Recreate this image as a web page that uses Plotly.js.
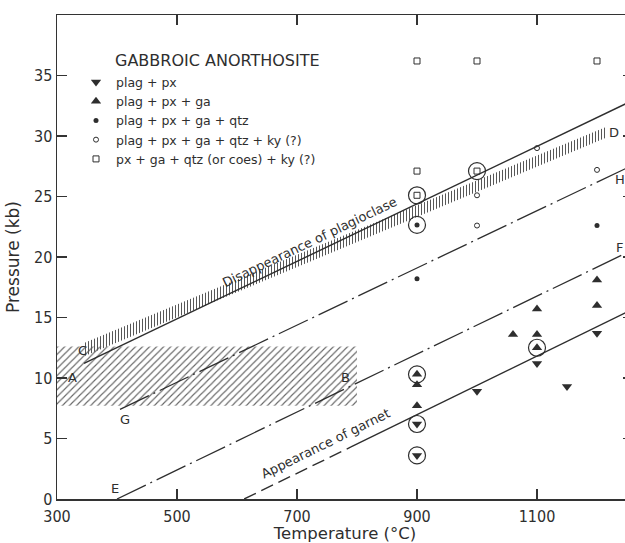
<!DOCTYPE html>
<html>
<head>
<meta charset="utf-8">
<script src="https://cdn.plot.ly/plotly-3.0.1.min.js"></script>
<style>
html,body{margin:0;padding:0;overflow:hidden;background:#fff;}
#chart{width:640px;height:543px;}
</style>
</head>
<body>
<div id="chart"></div>
<script>
// ---- experimental runs (Temperature °C, Pressure kb) ----
const plagPxT = [1000, 1100, 1150, 1200, 900, 900];
const plagPxP = [8.9, 11.2, 9.3, 13.7, 6.2, 3.6];

const plagPxGaT = [900, 900, 900, 1060, 1100, 1100, 1100, 1200, 1200];
const plagPxGaP = [10.3, 9.45, 7.7, 13.6, 13.6, 15.7, 12.5, 16.0, 18.1];

const plagPxGaQtzT = [900, 900, 1200];
const plagPxGaQtzP = [18.2, 22.65, 22.6];

const plagPxGaQtzKyT = [1000, 1000, 1100, 1200];
const plagPxGaQtzKyP = [22.6, 25.1, 29.0, 27.2];

const pxGaQtzKyT = [900, 1000, 1200, 900, 900, 1000];
const pxGaQtzKyP = [36.2, 36.2, 36.2, 27.1, 25.1, 27.1];

// circled runs
const circledT = [900, 1000, 900, 1100, 900, 900, 900];
const circledP = [25.1, 27.1, 22.65, 12.5, 10.3, 6.2, 3.6];

// ---- boundaries ----
const plagOutT = [345, 1260];           // disappearance of plagioclase (solid)
const plagOutP = [11.2, 32.95];
const bandCDT = [345, 1215, 1215, 345, 345];   // hatched band C–D
const bandCDP = [11.8, 29.85, 30.75, 12.9, 11.8];
const rectABT = [300, 800, 800, 300, 300];     // hatched field A–B
const rectABP = [7.7, 7.7, 12.6, 12.6, 7.7];
const lineGHT = [405, 1260];            // G–H dash-dot
const lineGHP = [7.4, 27.6];
const lineEFT = [400, 1260];            // E–F dash-dot
const lineEFP = [0, 20.6];
const garnetDashT = [612, 790];         // appearance of garnet (dashed part)
const garnetDashP = [0, 4.3];
const garnetSolidT = [790, 1260];       // appearance of garnet (solid part)
const garnetSolidP = [4.3, 15.7];

// labels
const letterText = ['A', 'B', 'C', 'G', 'E', 'F', 'H', 'D'];
const letterT = [326, 781, 343, 413, 397, 1238, 1238, 1229];
const letterP = [10.05, 10.05, 12.3, 6.6, 0.9, 20.8, 26.4, 30.3];

const tickXVals = [300, 500, 700, 900, 1100];
const tickYVals = [0, 5, 10, 15, 20, 25, 30, 35];

const ink = '#2e2e2e';
const tickFont = 'DejaVu Sans Condensed, Liberation Sans Narrow, DejaVu Sans, sans-serif';
const txtFont = 'DejaVu Sans, sans-serif';

const traces = [
  {x: rectABT, y: rectABP, mode: 'lines', fill: 'toself', line: {width: 0, color: 'rgba(0,0,0,0)'},
   fillcolor: 'rgba(0,0,0,0)', fillpattern: {shape: '/', size: 5, solidity: 0.22, fgcolor: '#666', bgcolor: 'rgba(0,0,0,0)'},
   showlegend: false, hoverinfo: 'skip'},
  {x: bandCDT, y: bandCDP, mode: 'lines', fill: 'toself', line: {width: 0, color: 'rgba(0,0,0,0)'},
   fillcolor: 'rgba(0,0,0,0)', fillpattern: {shape: '|', size: 3, solidity: 0.33, fgcolor: '#555', bgcolor: 'rgba(0,0,0,0)'},
   showlegend: false, hoverinfo: 'skip'},
  {x: plagOutT, y: plagOutP, mode: 'lines', line: {color: ink, width: 1.4}, showlegend: false},
  {x: lineGHT, y: lineGHP, mode: 'lines', line: {color: ink, width: 1.3, dash: '32px,5px,2px,5px'}, showlegend: false},
  {x: lineEFT, y: lineEFP, mode: 'lines', line: {color: ink, width: 1.3, dash: '32px,5px,2px,5px'}, showlegend: false},
  {x: garnetDashT, y: garnetDashP, mode: 'lines', line: {color: ink, width: 1.4, dash: '13px,6px'}, showlegend: false},
  {x: garnetSolidT, y: garnetSolidP, mode: 'lines', line: {color: ink, width: 1.4}, showlegend: false},
  {x: circledT, y: circledP, mode: 'markers', marker: {symbol: 'circle-open', size: 17, color: ink, line: {width: 1.2, color: ink}}, showlegend: false},
  {x: plagPxT, y: plagPxP, mode: 'markers', name: 'plag + px', marker: {symbol: 'triangle-down', size: 9, color: ink}},
  {x: plagPxGaT, y: plagPxGaP, mode: 'markers', name: 'plag + px + ga', marker: {symbol: 'triangle-up', size: 9, color: ink}},
  {x: plagPxGaQtzT, y: plagPxGaQtzP, mode: 'markers', name: 'plag + px + ga + qtz', marker: {symbol: 'circle', size: 5, color: ink}},
  {x: plagPxGaQtzKyT, y: plagPxGaQtzKyP, mode: 'markers', name: 'plag + px + ga + qtz + ky (?)', marker: {symbol: 'circle-open', size: 5, color: ink, line: {width: 1, color: ink}}},
  {x: pxGaQtzKyT, y: pxGaQtzKyP, mode: 'markers', name: 'px + ga + qtz (or coes) + ky (?)', marker: {symbol: 'square-open', size: 6, color: ink, line: {width: 1, color: ink}}}
];

const annotations = letterText.map((t, i) => ({
  x: letterT[i], y: letterP[i], xref: 'x', yref: 'y', text: t, showarrow: false,
  font: {family: txtFont, size: 13, color: ink}
}));
annotations.push({x: 720, y: 21.2, xref: 'x', yref: 'y', text: 'Disappearance of plagioclase', showarrow: false,
  textangle: -25.6, font: {family: txtFont, size: 13, color: ink}});
annotations.push({x: 748, y: 4.55, xref: 'x', yref: 'y', text: 'Appearance of garnet', showarrow: false,
  textangle: -26.2, font: {family: txtFont, size: 13, color: ink}});
annotations.push({x: 0.098, y: 0.905, xref: 'paper', yref: 'paper', xanchor: 'left', yanchor: 'middle',
  text: 'GABBROIC ANORTHOSITE', showarrow: false, font: {family: txtFont, size: 16, color: ink}});

const axisCommon = {
  showgrid: false, zeroline: false, showline: true, linecolor: '#333', linewidth: 1.5,
  mirror: 'ticks', ticks: 'inside', ticklen: 10, tickwidth: 1.3, tickcolor: '#333',
  tickfont: {family: tickFont, size: 16, color: ink}
};

const layout = {
  width: 640, height: 543,
  margin: {l: 57, r: 7, t: 15, b: 44},
  paper_bgcolor: '#fff', plot_bgcolor: '#fff',
  showlegend: true,
  legend: {x: 0.033, y: 0.892, xanchor: 'left', yanchor: 'top', bgcolor: 'rgba(0,0,0,0)',
    font: {family: txtFont, size: 12.5, color: ink}, tracegroupgap: 0},
  xaxis: Object.assign({}, axisCommon, {range: [300, 1260], tickmode: 'array', tickvals: tickXVals,
    ticklabelstandoff: 2,
    title: {text: 'Temperature (°C)', font: {family: txtFont, size: 16.5, color: ink}, standoff: 10}}),
  yaxis: Object.assign({}, axisCommon, {range: [0, 40], tickmode: 'array', tickvals: tickYVals,
    title: {text: 'Pressure (kb)', font: {family: txtFont, size: 17, color: ink}, standoff: 10}}),
  annotations: annotations
};

Plotly.newPlot('chart', traces, layout, {displayModeBar: false, staticPlot: true});
</script>
</body>
</html>
